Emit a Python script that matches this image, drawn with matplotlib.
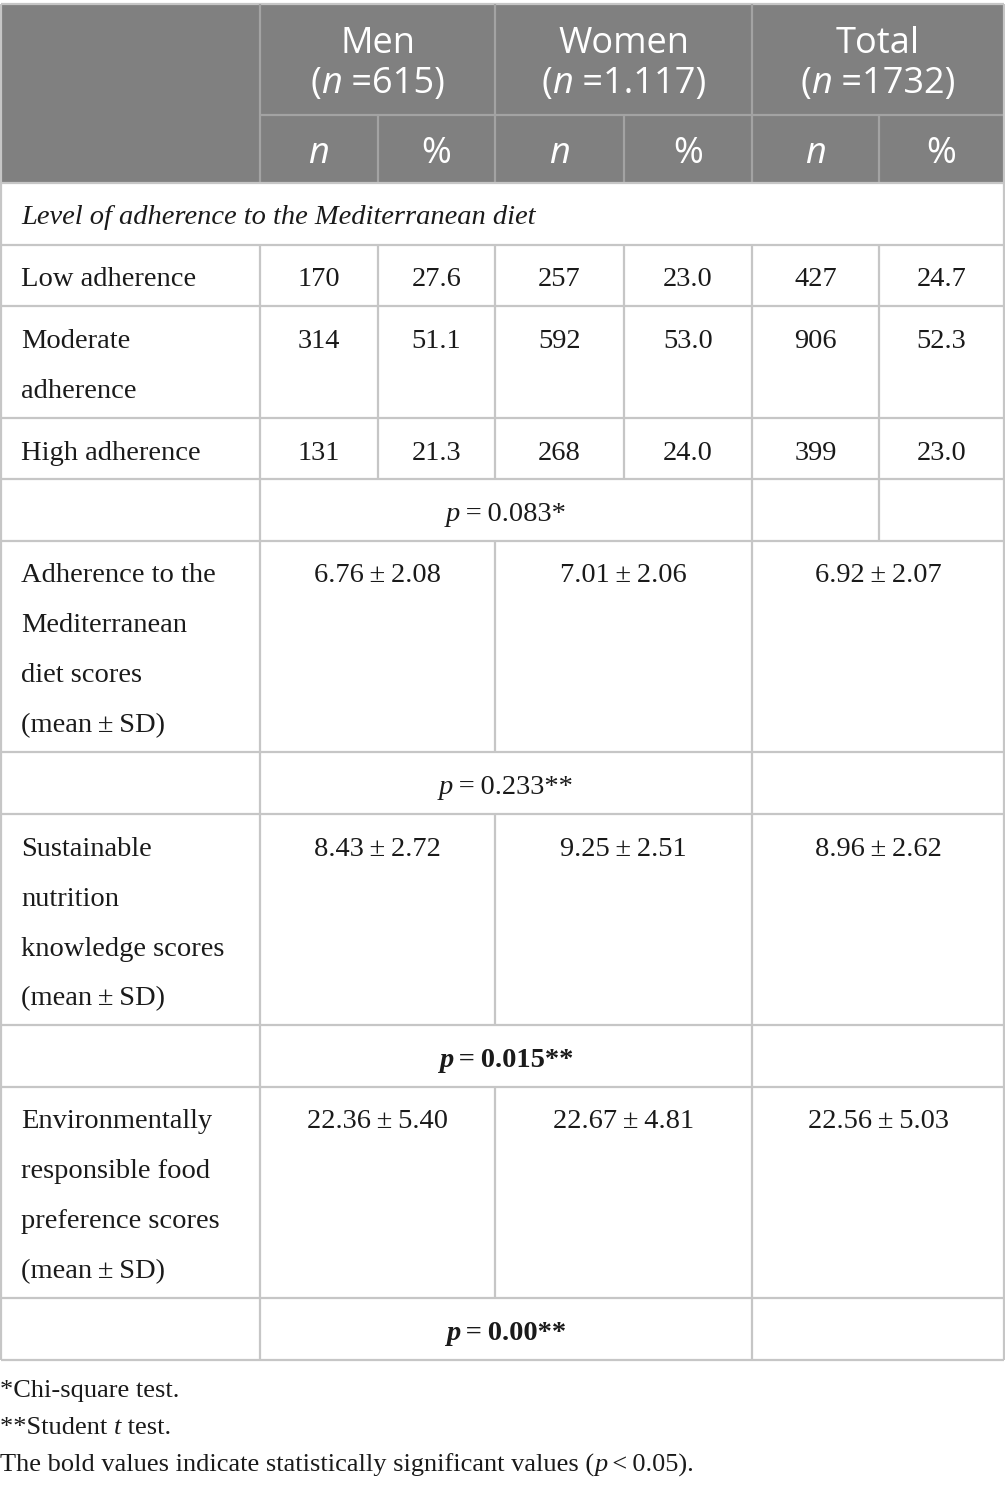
import matplotlib
matplotlib.use("agg")
import matplotlib.pyplot as plt
from matplotlib.patches import Rectangle

# ---- table content ----
groups = ["Men", "Women", "Total"]
group_n = ["615", "1.117", "1732"]
sub_cols = ["n", "%", "n", "%", "n", "%"]

section_title = "Level of adherence to the Mediterranean diet"
level_labels = ["Low adherence", "Moderate\nadherence", "High adherence"]
level_values = [
    ["170", "27.6", "257", "23.0", "427", "24.7"],
    ["314", "51.1", "592", "53.0", "906", "52.3"],
    ["131", "21.3", "268", "24.0", "399", "23.0"],
]
chi_p = "0.083*"

score_labels = [
    "Adherence to the\nMediterranean\ndiet scores\n(mean\u2009±\u2009SD)",
    "Sustainable\nnutrition\nknowledge scores\n(mean\u2009±\u2009SD)",
    "Environmentally\nresponsible food\npreference scores\n(mean\u2009±\u2009SD)",
]
score_values = [
    ["6.76\u2009±\u20092.08", "7.01\u2009±\u20092.06", "6.92\u2009±\u20092.07"],
    ["8.43\u2009±\u20092.72", "9.25\u2009±\u20092.51", "8.96\u2009±\u20092.62"],
    ["22.36\u2009±\u20095.40", "22.67\u2009±\u20094.81", "22.56\u2009±\u20095.03"],
]
score_p = ["0.233**", "0.015**", "0.00**"]
score_p_bold = [False, True, True]

footnotes = ["*Chi-square test.", "**Student t test.",
             "The bold values indicate statistically significant values (p < 0.05)."]

# ---- layout (pixels) ----
W, H = 1005, 1488
xs = [1, 260, 378, 495, 624, 752, 879, 1004]
head_top, head_mid, head_bot = 4, 115, 183
row_h_single = 61.5
line_gap = 50
lab_x = 21

HEAD_BG = "#808080"
HEAD_LINE = "#a3a3a3"
GRID = "#c6c6c6"
TXT = "#1a1a1a"
SERIF = "Liberation Serif"
SANS = "Open Sans"
FS = 20.5
HFS = 26

fig = plt.figure(figsize=(W / 100, H / 100), dpi=100)
ax = fig.add_axes([0, 0, 1, 1])
ax.set_xlim(0, W)
ax.set_ylim(H, 0)
ax.axis("off")
renderer = fig.canvas.get_renderer()


def runs(x, y, parts, ha="center", **kw):
    # draw a list of (text, style) pieces on one baseline
    objs = []
    for s, st in parts:
        opts = dict(kw)
        opts.update(st)
        objs.append(ax.text(0, y, s, va="baseline", ha="left", **opts))
    widths = []
    for t in objs:
        bb = t.get_window_extent(renderer)
        widths.append(bb.width)
    total = sum(widths)
    x0 = x - total / 2 if ha == "center" else x
    for t, w in zip(objs, widths):
        t.set_x(x0)
        x0 += w


def hline(x0, x1, y, c=GRID, lw=1.6):
    ax.plot([x0, x1], [y, y], color=c, lw=lw, solid_capstyle="butt")


def vline(x, y0, y1, c=GRID, lw=1.6):
    ax.plot([x, x], [y0, y1], color=c, lw=lw, solid_capstyle="butt")


# ---- header ----
ax.add_patch(Rectangle((xs[0], head_top), xs[-1] - xs[0], head_bot - head_top,
                       facecolor=HEAD_BG, edgecolor="none"))
hsty = dict(color="white", fontsize=HFS, family=SANS)
for g in range(3):
    cx = (xs[1 + 2 * g] + xs[3 + 2 * g]) / 2
    runs(cx, 53, [(groups[g], {})], **hsty)
    runs(cx, 93, [("(", {}), ("n", {"style": "italic"}), (" =" + group_n[g] + ")", {})], **hsty)
for i, s in enumerate(sub_cols):
    cx = (xs[1 + i] + xs[2 + i]) / 2
    st = {"style": "italic"} if s == "n" else {}
    runs(cx, 163, [(s, st)], **hsty)
hline(xs[0], xs[-1], head_top, c=GRID)
hline(xs[1], xs[-1], head_mid, c=HEAD_LINE)
for x in xs[1:-1]:
    top = head_top if x in (xs[1], xs[3], xs[5]) else head_mid
    vline(x, top, head_bot, c=HEAD_LINE)

bsty = dict(color=TXT, fontsize=FS, family=SERIF)

# ---- section title ----
y = head_bot
runs(lab_x, y + 41, [(section_title, {"style": "italic"})], ha="left", **bsty)
hline(xs[0], xs[-1], y)
y += row_h_single
hline(xs[0], xs[-1], y)

# ---- level rows ----
for lab, vals in zip(level_labels, level_values):
    lines = lab.split("\n")
    h = row_h_single + line_gap * (len(lines) - 1)
    for k, ln in enumerate(lines):
        runs(lab_x, y + 42 + k * line_gap, [(ln, {})], ha="left", **bsty)
    for i, v in enumerate(vals):
        runs((xs[1 + i] + xs[2 + i]) / 2, y + 42, [(v, {})], **bsty)
    for x in xs[1:-1]:
        vline(x, y, y + h)
    y += h
    hline(xs[0], xs[-1], y)

# chi-square p row
runs((xs[1] + xs[5]) / 2, y + 42, [("p", {"style": "italic"}), ("\u2009=\u2009" + chi_p, {})], **bsty)
for x in (xs[1], xs[5], xs[6]):
    vline(x, y, y + row_h_single)
y += row_h_single
hline(xs[0], xs[-1], y)

# ---- score rows ----
for lab, vals, pv, bold in zip(score_labels, score_values, score_p, score_p_bold):
    lines = lab.split("\n")
    h = row_h_single + line_gap * (len(lines) - 1)
    for k, ln in enumerate(lines):
        runs(lab_x, y + 42 + k * line_gap, [(ln, {})], ha="left", **bsty)
    for g, v in enumerate(vals):
        runs((xs[1 + 2 * g] + xs[3 + 2 * g]) / 2, y + 42, [(v, {})], **bsty)
    for x in (xs[1], xs[3], xs[5]):
        vline(x, y, y + h)
    y += h
    hline(xs[0], xs[-1], y)
    w = "bold" if bold else "normal"
    runs((xs[1] + xs[5]) / 2, y + 42,
         [("p", {"style": "italic", "weight": w}), ("\u2009=\u2009" + pv, {"weight": w})], **bsty)
    for x in (xs[1], xs[5]):
        vline(x, y, y + row_h_single)
    y += row_h_single
    hline(xs[0], xs[-1], y)

# outer border
vline(xs[0], head_top, y)
vline(xs[-1], head_top, y)

# ---- footnotes ----
fsty = dict(color=TXT, fontsize=19, family=SERIF)
fy = y + 38
runs(0, fy, [(footnotes[0], {})], ha="left", **fsty)
runs(0, fy + 37, [("**Student ", {}), ("t", {"style": "italic"}), (" test.", {})], ha="left", **fsty)
runs(0, fy + 74, [("The bold values indicate statistically significant values (", {}),
                  ("p", {"style": "italic"}), ("\u2009<\u20090.05).", {})], ha="left", **fsty)

fig.savefig("out.png", dpi=100)
